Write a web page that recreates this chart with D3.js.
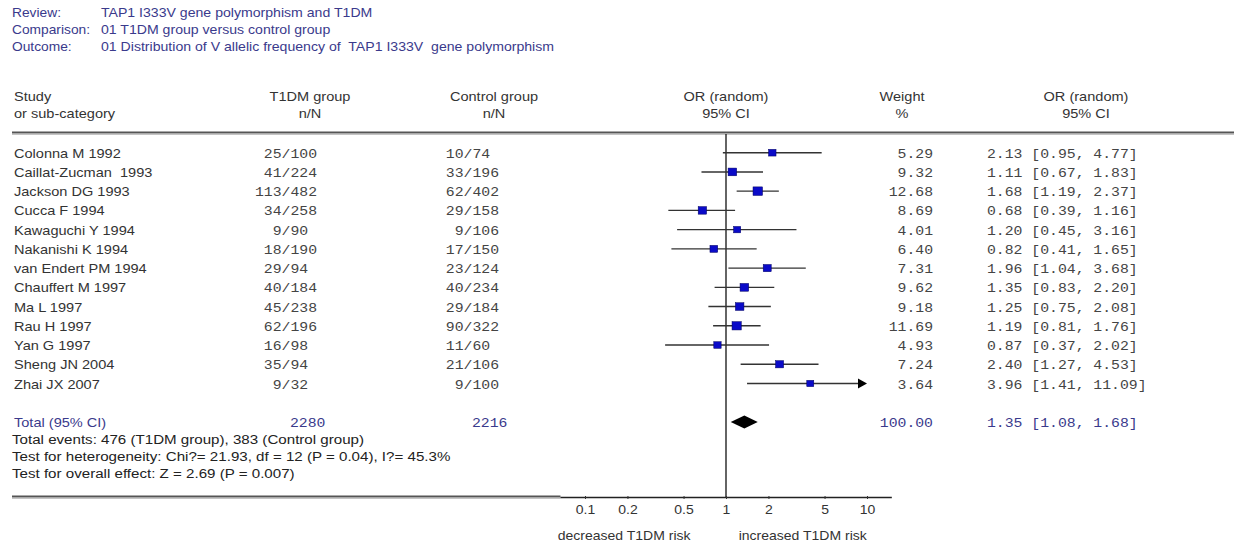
<!DOCTYPE html>
<html>
<head>
<meta charset="utf-8">
<script src="https://cdn.jsdelivr.net/npm/d3@7"></script>
<style>
  body { margin: 0; background: #fff; }
  text { white-space: pre; }
</style>
</head>
<body>
<svg class="chart" width="1234" height="543"></svg>
<script>
// Datos del forest plot
const studies = ["Colonna M 1992", "Caillat-Zucman  1993", "Jackson DG 1993", "Cucca F 1994",
    "Kawaguchi Y 1994", "Nakanishi K 1994", "van Endert PM 1994", "Chauffert M 1997",
    "Ma L 1997", "Rau H 1997", "Yan G 1997", "Sheng JN 2004", "Zhai JX 2007"]
const t1dmEvents = [25, 41, 113, 34, 9, 18, 29, 40, 45, 62, 16, 35, 9]
const t1dmTotal = [100, 224, 482, 258, 90, 190, 94, 184, 238, 196, 98, 94, 32]
const ctrlEvents = [10, 33, 62, 29, 9, 17, 23, 40, 29, 90, 11, 21, 9]
const ctrlTotal = [74, 196, 402, 158, 106, 150, 124, 234, 184, 322, 60, 106, 100]
const weights = [5.29, 9.32, 12.68, 8.69, 4.01, 6.40, 7.31, 9.62, 9.18, 11.69, 4.93, 7.24, 3.64]
const orValues = [2.13, 1.11, 1.68, 0.68, 1.20, 0.82, 1.96, 1.35, 1.25, 1.19, 0.87, 2.40, 3.96]
const ciLow = [0.95, 0.67, 1.19, 0.39, 0.45, 0.41, 1.04, 0.83, 0.75, 0.81, 0.37, 1.27, 1.41]
const ciHigh = [4.77, 1.83, 2.37, 1.16, 3.16, 1.65, 3.68, 2.20, 2.08, 1.76, 2.02, 4.53, 11.09]

const total = {t1dm: 2280, ctrl: 2216, weight: 100.00, or: 1.35, lo: 1.08, hi: 1.68}

const tickValues = [0.1, 0.2, 0.5, 1, 2, 5, 10]
const tickLabels = ["0.1", "0.2", "0.5", "1", "2", "5", "10"]

const headerLines = [
    ["Review:", "TAP1 I333V gene polymorphism and T1DM"],
    ["Comparison:", "01 T1DM group versus control group"],
    ["Outcome:", "01 Distribution of V allelic frequency of  TAP1 I333V  gene polymorphism"]
]
const footerLines = [
    "Total events: 476 (T1DM group), 383 (Control group)",
    "Test for heterogeneity: Chi?= 21.93, df = 12 (P = 0.04), I?= 45.3%",
    "Test for overall effect: Z = 2.69 (P = 0.007)"
]

const SANS = 'Liberation Sans, Arial, sans-serif'
const MONO = 'Liberation Mono, Courier New, monospace'
const SX = 1.12          // la imagen original esta estirada en horizontal
const MONO_SIZE = 13.2
const CW = 0.6 * MONO_SIZE * SX   // ancho de caracter monoespaciado
const BLUE = '#3a3a8c'
const GREY = '#333'

const svg = d3.select('.chart')

function txt(x, y, s, o = {}) {
    return svg.append('text')
        .attr('transform', `translate(${x},${y}) scale(${SX},1)`)
        .attr('text-anchor', o.anchor || 'start')
        .attr('font-family', o.mono ? MONO : SANS)
        .attr('font-size', o.size || (o.mono ? MONO_SIZE : 13))
        .attr('fill', o.fill || GREY)
        .text(s)
}

// Escalas
const x = d3.scaleLog().domain([0.1, 10]).range([585, 867])
const y = d3.scaleLinear().domain([0, 12]).range([152.7, 383.5])
const size = d3.scaleLinear().domain([3.64, 12.68]).range([7, 9.5])

// Cabecera
headerLines.forEach((d, i) => {
    txt(12, 17 + i * 17, d[0], {fill: BLUE, size: 12.3})
    txt(101, 17 + i * 17, d[1], {fill: BLUE, size: 12.6})
})

// Titulos de columnas
txt(14, 101, 'Study')
txt(14, 118, 'or sub-category')
const cols = [[310, 'T1DM group', 'n/N'], [494, 'Control group', 'n/N'],
    [x(1), 'OR (random)', '95% CI'], [902, 'Weight', '%'], [1086, 'OR (random)', '95% CI']]
cols.forEach(c => {
    txt(c[0], 101, c[1], {anchor: 'middle'})
    txt(c[0], 118, c[2], {anchor: 'middle'})
})

// Lineas
svg.append('line')
    .attr('x1', 12).attr('x2', 1234).attr('y1', 132.5).attr('y2', 132.5)
    .attr('stroke', '#555').attr('stroke-width', 2)
svg.append('line')
    .attr('x1', 12).attr('x2', 1234).attr('y1', 134.2).attr('y2', 134.2)
    .attr('stroke', '#aaa').attr('stroke-width', 1)
svg.append('line')
    .attr('x1', 12).attr('x2', x(0.067)).attr('y1', 496.5).attr('y2', 496.5)
    .attr('stroke', '#555').attr('stroke-width', 2)
svg.append('line')
    .attr('x1', 12).attr('x2', x(0.067)).attr('y1', 498.2).attr('y2', 498.2)
    .attr('stroke', '#aaa').attr('stroke-width', 1)
svg.append('line')
    .attr('x1', x(0.067)).attr('x2', x(15)).attr('y1', 497.5).attr('y2', 497.5)
    .attr('stroke', '#222').attr('stroke-width', 1.3)
svg.append('line')
    .attr('x1', x(1)).attr('x2', x(1)).attr('y1', 134).attr('y2', 497)
    .attr('stroke', '#111').attr('stroke-width', 1.3)

// Filas de estudios
const slash1 = 286, slash2 = 468
studies.forEach((s, i) => {
    const yy = y(i) + 5
    txt(14, yy, s)
    txt(slash1 - (String(t1dmEvents[i]).length + 0.5) * CW, yy, `${t1dmEvents[i]}/${t1dmTotal[i]}`, {mono: true, fill: '#444'})
    txt(slash2 - (String(ctrlEvents[i]).length + 0.5) * CW, yy, `${ctrlEvents[i]}/${ctrlTotal[i]}`, {mono: true, fill: '#444'})
    txt(933, yy, weights[i].toFixed(2), {mono: true, anchor: 'end', fill: '#444'})
    txt(987, yy, `${orValues[i].toFixed(2)} [${ciLow[i].toFixed(2)}, ${ciHigh[i].toFixed(2)}]`, {mono: true, fill: '#444'})
})

// Intervalos de confianza
const idx = d3.range(studies.length)
svg.selectAll('line.ci')
    .data(idx)
    .join('line')
    .attr('class', 'ci')
    .attr('x1', i => x(Math.max(ciLow[i], 0.1)))
    .attr('x2', i => x(Math.min(ciHigh[i], 10)) - (ciHigh[i] > 10 ? 6 : 0))
    .attr('y1', i => y(i)).attr('y2', i => y(i))
    .attr('stroke', '#333').attr('stroke-width', 1.4)

svg.selectAll('path.arrow')
    .data(idx.filter(i => ciHigh[i] > 10))
    .join('path')
    .attr('class', 'arrow')
    .attr('d', i => `M${x(10)},${y(i)} L${x(10) - 9},${y(i) - 5} L${x(10) - 9},${y(i) + 5} Z`)
    .attr('fill', '#000')

svg.selectAll('rect.box')
    .data(idx)
    .join('rect')
    .attr('class', 'box')
    .attr('x', i => x(orValues[i]) - size(weights[i]) / 2)
    .attr('y', i => y(i) - size(weights[i]) * 0.45)
    .attr('width', i => size(weights[i]))
    .attr('height', i => size(weights[i]) * 0.9)
    .attr('fill', '#0a0ac8')
    .attr('stroke', '#000060').attr('stroke-width', 0.5)

// Total
const yt = y(14)
txt(14, yt + 5, 'Total (95% CI)', {fill: BLUE})
txt(slash1 + 4, yt + 5, String(total.t1dm), {mono: true, fill: BLUE})
txt(slash2 + 4, yt + 5, String(total.ctrl), {mono: true, fill: BLUE})
txt(933, yt + 5, total.weight.toFixed(2), {mono: true, anchor: 'end', fill: BLUE})
txt(987, yt + 5, `${total.or.toFixed(2)} [${total.lo.toFixed(2)}, ${total.hi.toFixed(2)}]`, {mono: true, fill: BLUE})

svg.append('path')
    .attr('d', `M${x(total.lo)},${yt} L${x(total.or)},${yt - 6.5} L${x(total.hi)},${yt} L${x(total.or)},${yt + 6.5} Z`)
    .attr('fill', '#000')

footerLines.forEach((s, i) => txt(12, 444 + i * 17, s, {fill: '#222', size: 13.5}))

// Eje
const xAxis = d3.axisBottom(x)
    .tickValues(tickValues)
    .tickFormat((d, i) => tickLabels[i])
    .tickSize(3)
    .tickPadding(6)

const ax = svg.append('g')
    .attr('transform', 'translate(0, 496)')
    .call(xAxis)
ax.select('.domain').remove()
ax.selectAll('line').attr('stroke', '#333').attr('y1', 0)
ax.selectAll('text')
    .attr('font-family', SANS)
    .attr('font-size', 12.5)
    .attr('fill', GREY)
    .attr('transform', `scale(${SX},1)`)

txt(x(0.56), 540, 'decreased T1DM risk', {anchor: 'end', size: 12.5})
txt(x(1.23), 540, 'increased T1DM risk', {size: 12.5})
</script>
</body>
</html>
